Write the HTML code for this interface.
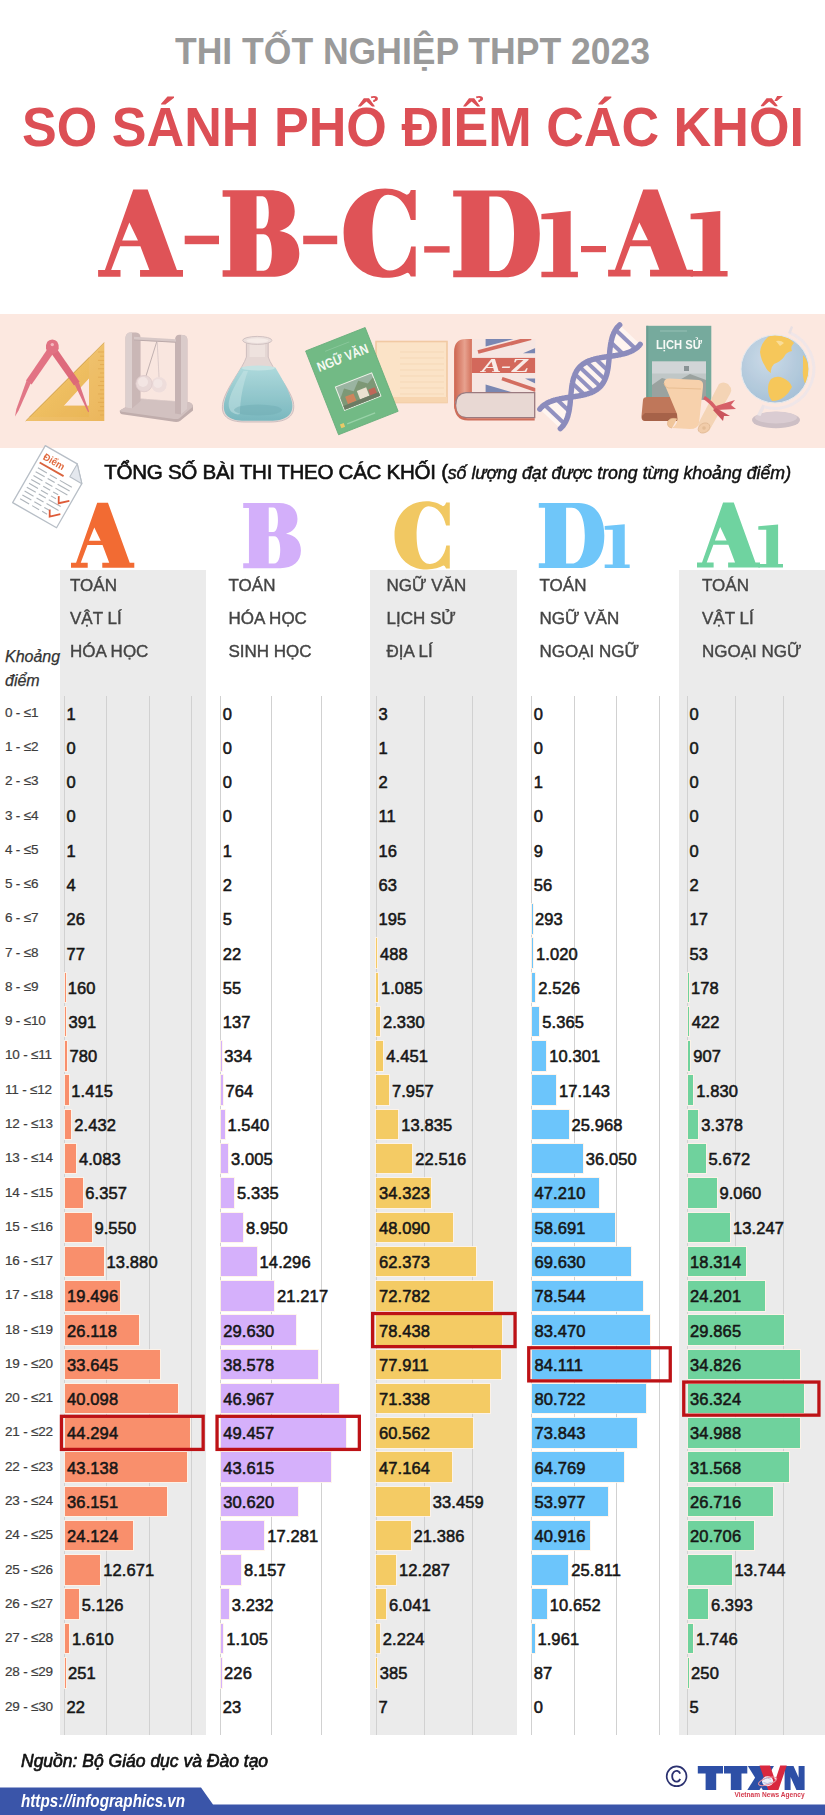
<!DOCTYPE html>
<html lang="vi"><head><meta charset="utf-8"><title>So sánh phổ điểm các khối</title>
<style>
html,body{margin:0;padding:0;background:#fff;}
html{width:825px;height:1815px;overflow:hidden;}
body{width:825px;height:1815px;position:relative;overflow:hidden;font-family:"Liberation Sans",sans-serif;}
.abs{position:absolute;white-space:nowrap;}
.t1{left:175px;top:32.4px;font-weight:700;font-size:36px;line-height:40px;color:#9a9a9a;transform:scaleX(0.9866);transform-origin:0 0;}
.t2{left:21.6px;top:97.6px;font-weight:700;font-size:55px;line-height:58px;color:#dc4f55;transform:scaleX(0.9477);transform-origin:0 0;}
.sub{left:104.2px;top:458px;font-size:20.6px;letter-spacing:-0.3px;line-height:28px;color:#111;-webkit-text-stroke:0.6px #111;}
.sub i{font-size:17.75px;letter-spacing:0;-webkit-text-stroke:0.45px #111;}
.colbg{position:absolute;background:#ebebeb;top:570px;height:1165px;}
.grid{position:absolute;top:696px;height:1039px;width:1.2px;background:#d1d1d1;}
.subj{position:absolute;font-size:17px;line-height:33px;color:#444;-webkit-text-stroke:0.4px #444;white-space:nowrap;}
.rl{position:absolute;left:5px;margin-top:-0.5px;font-size:13.5px;line-height:16px;color:#3d3d3d;-webkit-text-stroke:0.2px #3d3d3d;white-space:nowrap;letter-spacing:-0.2px;}
.bar{position:absolute;height:29.6px;box-shadow:0 0 0 1px rgba(255,243,232,.85);}
.v{position:absolute;font-size:16.5px;line-height:20px;color:#161616;-webkit-text-stroke:0.55px #161616;white-space:nowrap;letter-spacing:0.1px;}
.hl{position:absolute;box-sizing:border-box;border:3px solid #bd1216;height:36.4px;}
.kd{left:5px;top:645px;font-style:italic;font-size:16px;line-height:23.5px;color:#333;-webkit-text-stroke:0.25px #333;}
.src{left:21px;top:1749.3px;font-style:italic;font-size:17.5px;line-height:24px;color:#111;-webkit-text-stroke:0.65px #111;}
.url{left:21px;top:1789.8px;font-style:italic;font-weight:700;font-size:17.5px;line-height:22px;color:#fff;transform:scaleX(0.87);transform-origin:0 0;}
svg{position:absolute;left:0;top:0;}
</style></head><body>
<div class="abs t1" id="t1">THI TỐT NGHIỆP THPT 2023</div>
<div class="abs t2" id="t2">SO SÁNH PHỔ ĐIỂM CÁC KHỐI</div>

<svg width="825" height="300" viewBox="0 0 825 300" id="bigtitle">
<path transform="matrix(0.1698 0 0 0.1693 98.10 189.60)" fill="#df5357" fill-rule="evenodd" d="M207,0 L292,0 L464,475 L500,475 L500,515 L247,515 L247,475 L302,475 L249,335 L130,335 L77,475 L132,475 L132,515 L0,515 L0,475 L40,475 Z M184,195 L235,300 L142,300 Z"/>
<path transform="matrix(0.1697 0 0 0.1698 222.60 190.20)" fill="#df5357" fill-rule="evenodd" d="M0,0 L280,0 C375,0 425,50 425,125 C425,185 390,225 335,240 C410,250 452,300 452,372 C452,460 390,510 290,510 L0,510 L0,472 L45,472 L45,38 L0,38 Z M200,35 L235,35 C262,35 272,85 272,132 C272,180 262,226 235,226 L200,226 Z M200,260 L242,260 C278,260 290,318 290,366 C290,420 278,474 242,474 L200,474 Z"/>
<path transform="matrix(0.1696 0 0 0.1696 343.60 188.40)" fill="#df5357" fill-rule="evenodd" d="M425,10 L425,187 L396,187 C378,105 330,38 262,38 C200,38 170,150 170,262 C170,390 205,484 272,484 C338,484 385,420 398,342 L425,342 L425,520 L396,520 C390,505 385,497 375,497 C345,515 305,527 250,527 C100,527 0,420 0,262 C0,110 100,0 245,0 C305,0 345,20 372,38 C385,38 392,25 396,10 Z"/>
<path transform="matrix(0.2062 0 0 0.2057 453.20 190.40)" fill="#df5357" fill-rule="evenodd" d="M0,0 L255,0 C368,0 420,90 420,210 C420,335 368,422 255,422 L0,422 L0,390 L40,390 L40,30 L0,30 Z M175,30 L212,30 C268,30 295,110 295,210 C295,315 268,392 212,392 L175,392 Z"/>
<path transform="matrix(0.2062 0 0 0.2056 541.40 211.00)" fill="#df5357" fill-rule="evenodd" d="M0,14 L142,0 L142,295 L177,295 L177,322 L0,322 L0,295 L57,295 L57,40 L0,40 Z"/>
<path transform="matrix(0.1698 0 0 0.1689 608.10 189.60)" fill="#df5357" fill-rule="evenodd" d="M207,0 L292,0 L464,475 L500,475 L500,515 L247,515 L247,475 L302,475 L249,335 L130,335 L77,475 L132,475 L132,515 L0,515 L0,475 L40,475 Z M184,195 L235,300 L142,300 Z"/>
<path transform="matrix(0.2090 0 0 0.2037 690.60 211.00)" fill="#df5357" fill-rule="evenodd" d="M0,14 L142,0 L142,295 L177,295 L177,322 L0,322 L0,295 L57,295 L57,40 L0,40 Z"/>
<rect x="184.7" y="235.7" width="34.3" height="8.5" fill="#df5357"/>
<rect x="303.2" y="235.7" width="34.0" height="8.5" fill="#df5357"/>
<rect x="424.2" y="246.2" width="25.4" height="6.4" fill="#df5357"/>
<rect x="581" y="246" width="25.0" height="6.2" fill="#df5357"/>
</svg>
<div class="abs" style="left:0;top:313.5px;width:825px;height:134.5px;background:#fce8e0;"></div>
<svg width="825" height="170" viewBox="0 300 825 170" style="top:300px;opacity:0.9" id="strip">
<defs>
<linearGradient id="gRul" x1="0" y1="0" x2="1" y2="1"><stop offset="0" stop-color="#f2c766"/><stop offset="1" stop-color="#e8ad42"/></linearGradient>
<linearGradient id="gPost" x1="0" y1="0" x2="1" y2="0"><stop offset="0" stop-color="#d9cccc"/><stop offset="0.5" stop-color="#b9a7a8"/><stop offset="1" stop-color="#9f8d8f"/></linearGradient>
<linearGradient id="gBase" x1="0" y1="0" x2="0" y2="1"><stop offset="0" stop-color="#cdbfbf"/><stop offset="1" stop-color="#a79597"/></linearGradient>
<radialGradient id="gBall" cx="0.4" cy="0.35" r="0.7"><stop offset="0" stop-color="#efe6e6"/><stop offset="1" stop-color="#bfb0b2"/></radialGradient>
<linearGradient id="gLiq" x1="0" y1="0" x2="0" y2="1"><stop offset="0" stop-color="#a6d8dc"/><stop offset="1" stop-color="#6bb2bb"/></linearGradient>
<linearGradient id="gGlass" x1="0" y1="0" x2="1" y2="0"><stop offset="0" stop-color="#c9d9d9"/><stop offset="0.5" stop-color="#eef3f2"/><stop offset="1" stop-color="#c2d2d3"/></linearGradient>
<radialGradient id="gGlobe" cx="0.4" cy="0.35" r="0.75"><stop offset="0" stop-color="#c3d8e8"/><stop offset="1" stop-color="#93b7d3"/></radialGradient>
<linearGradient id="gSpine" x1="0" y1="0" x2="1" y2="0"><stop offset="0" stop-color="#c8553f"/><stop offset="0.6" stop-color="#e59a86"/><stop offset="1" stop-color="#cf634d"/></linearGradient>
<clipPath id="cFlag"><rect x="471.7" y="339.1" width="63.6" height="53.3"/></clipPath>
<clipPath id="cGlobe"><circle cx="775" cy="369" r="34"/></clipPath>
</defs>
<g id="ruler" opacity="0.92">
<path fill="url(#gRul)" fill-rule="evenodd" d="M104.3,342.5 L104.3,421 L25.7,421 Z M89,378.3 L89,405.7 L63.7,405.7 Z"/>
<path d="M104.3,342.5 L25.7,421" fill="none" stroke="#cfa044" stroke-width="1"/>
<g stroke="#d99a2e" stroke-width="0.7"><line x1="98" y1="352.0" x2="104" y2="352.0"/><line x1="100" y1="356.2" x2="104" y2="356.2"/><line x1="98" y1="360.4" x2="104" y2="360.4"/><line x1="100" y1="364.6" x2="104" y2="364.6"/><line x1="98" y1="368.8" x2="104" y2="368.8"/><line x1="100" y1="373.0" x2="104" y2="373.0"/><line x1="98" y1="377.2" x2="104" y2="377.2"/><line x1="100" y1="381.4" x2="104" y2="381.4"/><line x1="98" y1="385.6" x2="104" y2="385.6"/><line x1="100" y1="389.8" x2="104" y2="389.8"/><line x1="98" y1="394.0" x2="104" y2="394.0"/><line x1="100" y1="398.2" x2="104" y2="398.2"/><line x1="98" y1="402.4" x2="104" y2="402.4"/><line x1="100" y1="406.6" x2="104" y2="406.6"/><line x1="98" y1="410.8" x2="104" y2="410.8"/><line x1="100" y1="415.0" x2="104" y2="415.0"/></g>
</g>
<g id="compass" opacity="0.95">
<path d="M26.6,380.6 L30.6,383.4 L18.6,410.5 L15,416.5 L16.4,409 Z" fill="#dd6478"/>
<path d="M74.8,384.8 L78.8,382 L89,411.5 L88.2,412.3 L85.8,407.5 Z" fill="#d95c71"/>
<path d="M47.5,349 L53.5,353 L31.6,384.4 L26,380.6 Z" fill="#de5f74"/>
<path d="M51,353 L57,349 L79.6,381.8 L74,385.6 Z" fill="#d8556b"/>
<path d="M46,348.5 Q45.5,339.8 52.3,339.6 Q59,339.8 58.7,348.5 Q57.5,353.6 52.3,354 Q47.2,353.6 46,348.5 Z" fill="#dd5d72"/>
<circle cx="52.3" cy="344.6" r="1.7" fill="#f3b0ba"/>
</g>
<g id="cradle">
<path d="M119.8,410.5 L141,398.5 L188,402 Q193.5,403 193,408 L193,410.5 L180,421 Q178,422.3 174,421.8 L122,414.2 Q119.5,413.5 119.8,410.5 Z" fill="#b9a6a6"/>
<path d="M119.8,410.5 L141,398.5 L188,402 Q193.5,403 192.5,407 L179.5,418.2 Q178,419.4 174,419 L122,411.8 Q119.5,411.3 119.8,410.5 Z" fill="#cdbdbd"/>
<path d="M140.5,340 L140.5,399 L176,401.5 L176,342 Z" fill="#f6e4de" opacity="0.55"/>
<path d="M125.5,338 Q125.5,332.4 131,332.4 L136,332.6 Q140.6,333 140.6,338 L140.6,401 L132,408.5 L125.5,407.5 Z" fill="#c4b1b2"/>
<path d="M125.5,338 Q125.5,332.4 131,332.4 L132,332.5 L132,408.5 L125.5,407.5 Z" fill="#d9cccc"/>
<path d="M175,340 Q175,334.6 180,334.8 L183,335 Q187.4,335.4 187.4,340 L187.4,409 L181,414.5 L175,413.5 Z" fill="#c0adae"/>
<path d="M181,334.9 L183,335 Q187.4,335.4 187.4,340 L187.4,409 L181,414.5 Z" fill="#d6c8c8"/>
<path d="M134,336.8 L176,339.3 L176,342.6 L134,340.3 Z" fill="#d3c4c4"/>
<path d="M134,339.4 L176,341.8 L176,342.8 L134,340.5 Z" fill="#b5a3a4"/>
<g stroke="#a99a9c" stroke-width="0.8"><line x1="156.8" y1="341.5" x2="146" y2="376"/></g>
<g stroke="#cbbcbd" stroke-width="0.7"><line x1="157.2" y1="341.5" x2="159" y2="377"/></g>
<circle cx="159" cy="384.8" r="7.7" fill="#ecdcdb"/>
<circle cx="158" cy="383.5" r="4.5" fill="#f4e9e7" opacity="0.8"/>
<circle cx="144" cy="383.6" r="8.2" fill="#e7d6d6"/>
<circle cx="143" cy="382" r="5" fill="#f3e7e6" opacity="0.85"/>
<circle cx="144" cy="383.6" r="8.2" fill="none" stroke="#d5c3c4" stroke-width="0.7"/>
</g>
<g id="flask">
<path d="M246.4,342 L246.4,357 C243,368 226,388 223,402 C220,416 228,422 245,422 L270,422 C287,422 296,416 293.3,402 C290,388 271.5,368 268.2,357 L268.2,342 Z" fill="#e3d5d3" stroke="#c4b6b8" stroke-width="0.9"/>
<path d="M249.5,343 L249.5,357 L265,357 L265,343 Z" fill="#efe4e1" opacity="0.8"/>
<path d="M241.3,367.5 C235,378 226.5,391 224.3,402 C221.8,415 229,420.8 245,420.8 L270,420.8 C286,420.8 294.3,415 292,402 C289.8,391 281.5,378 275.3,367.5 Q258,364.5 241.3,367.5 Z" fill="url(#gLiq)"/>
<path d="M243.5,371 C238,380 231,391 229,401 C227.5,409 231,413.5 238,414.5 L240,414 C240,400 243,384 248,371 Z" fill="#c3e5e7" opacity="0.5"/>
<ellipse cx="258" cy="410" rx="24" ry="5.5" fill="#5fa3ad" opacity="0.45"/>
<ellipse cx="258.3" cy="368" rx="16.6" ry="2.6" fill="#bfe2e4"/>
<ellipse cx="257.3" cy="340.4" rx="14.6" ry="4" fill="#e9dedc" stroke="#c7b9ba" stroke-width="0.9"/>
<ellipse cx="257.3" cy="340.6" rx="11" ry="2.4" fill="#f4ebe8"/>
</g>
<g id="notebook">
<rect x="376" y="341.5" width="71" height="61" fill="#fbe2c4" stroke="#f0c69c" stroke-width="1.6"/>
<rect x="376" y="397" width="71" height="5.5" fill="#f6d3ab"/>
<g stroke="#f3d3b0" stroke-width="0.7"><line x1="400" y1="352" x2="444" y2="352"/><line x1="400" y1="358" x2="444" y2="358"/><line x1="400" y1="364" x2="444" y2="364"/><line x1="400" y1="370" x2="444" y2="370"/><line x1="400" y1="376" x2="444" y2="376"/><line x1="400" y1="382" x2="444" y2="382"/><line x1="400" y1="388" x2="444" y2="388"/><line x1="400" y1="394" x2="444" y2="394"/></g>
</g>
<g id="nguvan" transform="translate(305.6,351) rotate(-21.5)">
<rect x="0" y="0" width="64" height="90" fill="#62b57b"/>
<rect x="0" y="0" width="64" height="90" fill="none" stroke="#56a76f" stroke-width="0.8"/>
<text x="5" y="24.5" font-family="Liberation Sans" font-weight="700" font-size="13.5" fill="#f4fbf4" textLength="54" lengthAdjust="spacingAndGlyphs">NGỮ VĂN</text>
<g transform="translate(0,-3)"><rect x="14" y="47" width="40" height="26" fill="#eef3ea"/>
<rect x="15" y="48" width="38" height="24" fill="#8fae9a"/>
<path d="M15,60 L22,52 L30,58 L38,50 L46,56 L53,52 L53,72 L15,72 Z" fill="#6f8f6a"/>
<rect x="20" y="60" width="9" height="8" fill="#c97a4e"/><rect x="33" y="59" width="10" height="9" fill="#e8e0cf"/><rect x="44" y="62" width="7" height="7" fill="#b8584a"/>
<rect x="15" y="68" width="38" height="4" fill="#5c6f55"/></g>
<rect x="5" y="81" width="4" height="4" fill="#e8c75a"/>
<rect x="12" y="82.5" width="30" height="1.2" fill="#8fd0a3"/>
<rect x="18" y="7" width="26" height="0.9" fill="#7fc495"/>
</g>
<g id="ukbook">
<rect x="471.7" y="339.1" width="63.6" height="53.3" fill="#f5e6e2"/>
<g clip-path="url(#cFlag)">
<path d="M485.6,339 L513.5,339 L485.6,346.6 Z M523,353.2 L535.3,348 L535.3,353.2 Z M485.6,384.6 L512.9,392.4 L485.6,392.4 Z M525,378.4 L535.3,378.4 L535.3,383.4 Z" fill="#6b7cad"/>
<path d="M478,352 L531,338.2" stroke="#cf5f52" stroke-width="3.8"/>
<path d="M502,378.6 L536,390.2" stroke="#cf5f52" stroke-width="3.6"/>
<rect x="471.7" y="357.9" width="63.6" height="15.1" fill="#cf5a4c"/>
</g>
<text x="481.4" y="372.2" font-family="Liberation Serif" font-style="italic" font-weight="700" font-size="18" fill="#f8ebe8" textLength="48" lengthAdjust="spacingAndGlyphs">A-Z</text>
<path d="M471.9,339.1 L471.9,393 L466,393 Q455,395 455,407 L455,409 Q454.1,409 454.1,405 L454.1,352 Q454.1,339.1 466,339.1 Z" fill="url(#gSpine)"/>
<path d="M466,392.6 L534.7,392.6 L534.7,417.6 L466,417.6 Q455.6,417 455.6,405.5 Q455.6,393.5 466,392.6 Z" fill="#e6d6d2" stroke="#8f6e74" stroke-width="1.3"/>
<path d="M454.1,404 Q454.1,420.5 468,420.5 L534.7,420.5 L534.7,418.2 L468,418.2 Q456.2,418 455.6,404 Z" fill="#c9604c"/>
</g>
<g id="dna"><path d="M539.8,409.2 L540.3,408.6 L540.7,408.1 L541.2,407.5 L541.8,407.0 L542.3,406.5 L542.8,406.0 L543.4,405.6 L544.0,405.1 L544.6,404.7 L545.2,404.3 L545.8,403.9 L546.5,403.5 L547.1,403.1 L547.8,402.7 L548.5,402.4 L549.2,402.1 L549.9,401.8 L550.7,401.5 L551.4,401.2 L552.2,400.9 L553.0,400.6 L553.7,400.4 L554.5,400.1 L555.4,399.9 L556.2,399.7 L557.0,399.5 L557.9,399.3 L558.7,399.1 L559.6,398.9 L560.4,398.7 L561.3,398.6 L562.2,398.4 L563.1,398.2 L564.0,398.1 L564.9,397.9 L565.8,397.8 L566.7,397.7 L567.6,397.5 L568.5,397.4 L569.5,397.3 L570.4,397.1 L571.3,397.0 L572.2,396.9 L573.1,396.8 L574.0,396.6 L575.0,396.5 L575.9,396.3 L576.8,396.2 L577.7,396.1 L578.6,395.9 L579.5,395.8 L580.3,395.6 L581.2,395.4 L582.1,395.2 L582.9,395.1 L583.8,394.9 L584.6,394.7 L585.5,394.5 L586.3,394.2 L587.1,394.0 L587.9,393.8 L588.7,393.5 L589.5,393.2 L590.2,393.0 L591.0,392.7 L591.7,392.4 L592.4,392.0 L593.1,391.7 L593.8,391.4 L594.5,391.0 L595.1,390.6 L595.8,390.2 L596.4,389.8 L597.0,389.4 L597.6,389.0 L598.2,388.5 L598.7,388.0 L599.3,387.5 L599.8,387.0 L600.3,386.5 L600.8,386.0 L601.3,385.4 L601.7,384.9 L602.2,384.3 L602.6,383.7 L603.0,383.1 L603.4,382.4 L603.8,381.8 L604.1,381.1 L604.5,380.5 L604.8,379.8 L605.1,379.1 L605.4,378.3 L605.7,377.6 L605.9,376.9 L606.2,376.1 L606.4,375.3 L606.7,374.5 L606.9,373.7 L607.1,372.9 L607.3,372.1 L607.4,371.3 L607.6,370.4 L607.8,369.6 L607.9,368.7 L608.1,367.9 L608.2,367.0 L608.3,366.1 L608.4,365.2 L608.5,364.3 L608.6,363.4 L608.7,362.5 L608.8,361.6 L608.9,360.7 L609.0,359.8 L609.1,358.8 L609.2,357.9 L609.2,357.0 L609.3,356.1 L609.4,355.2 L609.5,354.2 L609.6,353.3 L609.7,352.4 L609.7,351.5 L609.8,350.6 L609.9,349.7 L610.0,348.7 L610.1,347.8 L610.3,347.0 L610.4,346.1 L610.5,345.2 L610.6,344.3 L610.8,343.5 L610.9,342.6 L611.1,341.8 L611.3,340.9 L611.5,340.1 L611.7,339.3 L611.9,338.5 L612.1,337.7 L612.3,336.9 L612.6,336.2 L612.8,335.4 L613.1,334.7 L613.4,333.9 L613.7,333.2 L614.0,332.5 L614.4,331.9 L614.7,331.2 L615.1,330.5 L615.5,329.9 L615.9,329.3 L616.3,328.7 L616.7,328.1 L617.2,327.5 L617.7,327.0 L618.2,326.4 L618.7,325.9 L619.2,325.4 L619.7,324.9 L640.2,344.3 L639.7,344.9 L639.3,345.4 L638.8,346.0 L638.2,346.5 L637.7,347.0 L637.2,347.5 L636.6,347.9 L636.0,348.4 L635.4,348.8 L634.8,349.2 L634.2,349.6 L633.5,350.0 L632.9,350.4 L632.2,350.8 L631.5,351.1 L630.8,351.4 L630.1,351.7 L629.3,352.0 L628.6,352.3 L627.8,352.6 L627.0,352.9 L626.3,353.1 L625.5,353.4 L624.6,353.6 L623.8,353.8 L623.0,354.0 L622.1,354.2 L621.3,354.4 L620.4,354.6 L619.6,354.8 L618.7,354.9 L617.8,355.1 L616.9,355.3 L616.0,355.4 L615.1,355.6 L614.2,355.7 L613.3,355.8 L612.4,356.0 L611.5,356.1 L610.5,356.2 L609.6,356.4 L608.7,356.5 L607.8,356.6 L606.9,356.7 L606.0,356.9 L605.0,357.0 L604.1,357.2 L603.2,357.3 L602.3,357.4 L601.4,357.6 L600.5,357.7 L599.7,357.9 L598.8,358.1 L597.9,358.3 L597.1,358.4 L596.2,358.6 L595.4,358.8 L594.5,359.0 L593.7,359.3 L592.9,359.5 L592.1,359.7 L591.3,360.0 L590.5,360.3 L589.8,360.5 L589.0,360.8 L588.3,361.1 L587.6,361.5 L586.9,361.8 L586.2,362.1 L585.5,362.5 L584.9,362.9 L584.2,363.3 L583.6,363.7 L583.0,364.1 L582.4,364.5 L581.8,365.0 L581.3,365.5 L580.7,366.0 L580.2,366.5 L579.7,367.0 L579.2,367.5 L578.7,368.1 L578.3,368.6 L577.8,369.2 L577.4,369.8 L577.0,370.4 L576.6,371.1 L576.2,371.7 L575.9,372.4 L575.5,373.0 L575.2,373.7 L574.9,374.4 L574.6,375.2 L574.3,375.9 L574.1,376.6 L573.8,377.4 L573.6,378.2 L573.3,379.0 L573.1,379.8 L572.9,380.6 L572.7,381.4 L572.6,382.2 L572.4,383.1 L572.2,383.9 L572.1,384.8 L571.9,385.6 L571.8,386.5 L571.7,387.4 L571.6,388.3 L571.5,389.2 L571.4,390.1 L571.3,391.0 L571.2,391.9 L571.1,392.8 L571.0,393.7 L570.9,394.7 L570.8,395.6 L570.8,396.5 L570.7,397.4 L570.6,398.3 L570.5,399.3 L570.4,400.2 L570.3,401.1 L570.3,402.0 L570.2,402.9 L570.1,403.8 L570.0,404.8 L569.9,405.7 L569.7,406.5 L569.6,407.4 L569.5,408.3 L569.4,409.2 L569.2,410.0 L569.1,410.9 L568.9,411.7 L568.7,412.6 L568.5,413.4 L568.3,414.2 L568.1,415.0 L567.9,415.8 L567.7,416.6 L567.4,417.3 L567.2,418.1 L566.9,418.8 L566.6,419.6 L566.3,420.3 L566.0,421.0 L565.6,421.6 L565.3,422.3 L564.9,423.0 L564.5,423.6 L564.1,424.2 L563.7,424.8 L563.3,425.4 L562.8,426.0 L562.3,426.5 L561.8,427.1 L561.3,427.6 L560.8,428.1 L560.3,428.6 Z" fill="#fff6f2"/><line x1="544.5" y1="404.7" x2="564.5" y2="423.7" stroke="#8587bd" stroke-width="4"/><line x1="556.9" y1="399.5" x2="569.0" y2="411.0" stroke="#8587bd" stroke-width="4"/><line x1="584.5" y1="394.7" x2="572.4" y2="383.2" stroke="#8587bd" stroke-width="4"/><line x1="593.4" y1="391.6" x2="575.0" y2="374.1" stroke="#8587bd" stroke-width="4"/><line x1="600.3" y1="386.5" x2="579.7" y2="367.0" stroke="#8587bd" stroke-width="4"/><line x1="605.0" y1="379.4" x2="586.6" y2="361.9" stroke="#8587bd" stroke-width="4"/><line x1="607.6" y1="370.3" x2="595.5" y2="358.8" stroke="#8587bd" stroke-width="4"/><line x1="611.0" y1="342.5" x2="623.1" y2="354.0" stroke="#8587bd" stroke-width="4"/><line x1="615.5" y1="329.8" x2="635.5" y2="348.8" stroke="#8587bd" stroke-width="4"/><path d="M539.8,409.2 L540.3,408.6 L540.7,408.1 L541.2,407.5 L541.8,407.0 L542.3,406.5 L542.8,406.0 L543.4,405.6 L544.0,405.1 L544.6,404.7 L545.2,404.3 L545.8,403.9 L546.5,403.5 L547.1,403.1 L547.8,402.7 L548.5,402.4 L549.2,402.1 L549.9,401.8 L550.7,401.5 L551.4,401.2 L552.2,400.9 L553.0,400.6 L553.7,400.4 L554.5,400.1 L555.4,399.9 L556.2,399.7 L557.0,399.5 L557.9,399.3 L558.7,399.1 L559.6,398.9 L560.4,398.7 L561.3,398.6 L562.2,398.4 L563.1,398.2 L564.0,398.1 L564.9,397.9 L565.8,397.8 L566.7,397.7 L567.6,397.5 L568.5,397.4 L569.5,397.3 L570.4,397.1 L571.3,397.0 L572.2,396.9 L573.1,396.8 L574.0,396.6 L575.0,396.5 L575.9,396.3 L576.8,396.2 L577.7,396.1 L578.6,395.9 L579.5,395.8 L580.3,395.6 L581.2,395.4 L582.1,395.2 L582.9,395.1 L583.8,394.9 L584.6,394.7 L585.5,394.5 L586.3,394.2 L587.1,394.0 L587.9,393.8 L588.7,393.5 L589.5,393.2 L590.2,393.0 L591.0,392.7 L591.7,392.4 L592.4,392.0 L593.1,391.7 L593.8,391.4 L594.5,391.0 L595.1,390.6 L595.8,390.2 L596.4,389.8 L597.0,389.4 L597.6,389.0 L598.2,388.5 L598.7,388.0 L599.3,387.5 L599.8,387.0 L600.3,386.5 L600.8,386.0 L601.3,385.4 L601.7,384.9 L602.2,384.3 L602.6,383.7 L603.0,383.1 L603.4,382.4 L603.8,381.8 L604.1,381.1 L604.5,380.5 L604.8,379.8 L605.1,379.1 L605.4,378.3 L605.7,377.6 L605.9,376.9 L606.2,376.1 L606.4,375.3 L606.7,374.5 L606.9,373.7 L607.1,372.9 L607.3,372.1 L607.4,371.3 L607.6,370.4 L607.8,369.6 L607.9,368.7 L608.1,367.9 L608.2,367.0 L608.3,366.1 L608.4,365.2 L608.5,364.3 L608.6,363.4 L608.7,362.5 L608.8,361.6 L608.9,360.7 L609.0,359.8 L609.1,358.8 L609.2,357.9 L609.2,357.0 L609.3,356.1 L609.4,355.2 L609.5,354.2 L609.6,353.3 L609.7,352.4 L609.7,351.5 L609.8,350.6 L609.9,349.7 L610.0,348.7 L610.1,347.8 L610.3,347.0 L610.4,346.1 L610.5,345.2 L610.6,344.3 L610.8,343.5 L610.9,342.6 L611.1,341.8 L611.3,340.9 L611.5,340.1 L611.7,339.3 L611.9,338.5 L612.1,337.7 L612.3,336.9 L612.6,336.2 L612.8,335.4 L613.1,334.7 L613.4,333.9 L613.7,333.2 L614.0,332.5 L614.4,331.9 L614.7,331.2 L615.1,330.5 L615.5,329.9 L615.9,329.3 L616.3,328.7 L616.7,328.1 L617.2,327.5 L617.7,327.0 L618.2,326.4 L618.7,325.9 L619.2,325.4 L619.7,324.9" fill="none" stroke="#7e80b8" stroke-width="5.4" stroke-linecap="round" stroke-linejoin="round"/><path d="M560.3,428.6 L560.8,428.1 L561.3,427.6 L561.8,427.1 L562.3,426.5 L562.8,426.0 L563.3,425.4 L563.7,424.8 L564.1,424.2 L564.5,423.6 L564.9,423.0 L565.3,422.3 L565.6,421.6 L566.0,421.0 L566.3,420.3 L566.6,419.6 L566.9,418.8 L567.2,418.1 L567.4,417.3 L567.7,416.6 L567.9,415.8 L568.1,415.0 L568.3,414.2 L568.5,413.4 L568.7,412.6 L568.9,411.7 L569.1,410.9 L569.2,410.0 L569.4,409.2 L569.5,408.3 L569.6,407.4 L569.7,406.5 L569.9,405.7 L570.0,404.8 L570.1,403.8 L570.2,402.9 L570.3,402.0 L570.3,401.1 L570.4,400.2 L570.5,399.3 L570.6,398.3 L570.7,397.4 L570.8,396.5 L570.8,395.6 L570.9,394.7 L571.0,393.7 L571.1,392.8 L571.2,391.9 L571.3,391.0 L571.4,390.1 L571.5,389.2 L571.6,388.3 L571.7,387.4 L571.8,386.5 L571.9,385.6 L572.1,384.8 L572.2,383.9 L572.4,383.1 L572.6,382.2 L572.7,381.4 L572.9,380.6 L573.1,379.8 L573.3,379.0 L573.6,378.2 L573.8,377.4 L574.1,376.6 L574.3,375.9 L574.6,375.2 L574.9,374.4 L575.2,373.7 L575.5,373.0 L575.9,372.4 L576.2,371.7 L576.6,371.1 L577.0,370.4 L577.4,369.8 L577.8,369.2 L578.3,368.6 L578.7,368.1 L579.2,367.5 L579.7,367.0 L580.2,366.5 L580.7,366.0 L581.3,365.5 L581.8,365.0 L582.4,364.5 L583.0,364.1 L583.6,363.7 L584.2,363.3 L584.9,362.9 L585.5,362.5 L586.2,362.1 L586.9,361.8 L587.6,361.5 L588.3,361.1 L589.0,360.8 L589.8,360.5 L590.5,360.3 L591.3,360.0 L592.1,359.7 L592.9,359.5 L593.7,359.3 L594.5,359.0 L595.4,358.8 L596.2,358.6 L597.1,358.4 L597.9,358.3 L598.8,358.1 L599.7,357.9 L600.5,357.7 L601.4,357.6 L602.3,357.4 L603.2,357.3 L604.1,357.2 L605.0,357.0 L606.0,356.9 L606.9,356.7 L607.8,356.6 L608.7,356.5 L609.6,356.4 L610.5,356.2 L611.5,356.1 L612.4,356.0 L613.3,355.8 L614.2,355.7 L615.1,355.6 L616.0,355.4 L616.9,355.3 L617.8,355.1 L618.7,354.9 L619.6,354.8 L620.4,354.6 L621.3,354.4 L622.1,354.2 L623.0,354.0 L623.8,353.8 L624.6,353.6 L625.5,353.4 L626.3,353.1 L627.0,352.9 L627.8,352.6 L628.6,352.3 L629.3,352.0 L630.1,351.7 L630.8,351.4 L631.5,351.1 L632.2,350.8 L632.9,350.4 L633.5,350.0 L634.2,349.6 L634.8,349.2 L635.4,348.8 L636.0,348.4 L636.6,347.9 L637.2,347.5 L637.7,347.0 L638.2,346.5 L638.8,346.0 L639.3,345.4 L639.7,344.9 L640.2,344.3" fill="none" stroke="#7e80b8" stroke-width="5.4" stroke-linecap="round" stroke-linejoin="round"/></g>
<g id="lichsu">
<rect x="646.3" y="325.8" width="65" height="74.2" fill="#67a396"/><rect x="646.3" y="325.8" width="2" height="74.2" fill="#5a9588"/>
<rect x="652" y="361.5" width="54" height="38" fill="#b9c3c4"/>
<rect x="652" y="361.5" width="54" height="12" fill="#ccd3d6"/>
<path d="M652,385 L662,378 L676,382 L690,374 L706,380 L706,399.5 L652,399.5 Z" fill="#8f9a98"/>
<rect x="684" y="366" width="5" height="5" fill="#7c8a8d"/>
<rect x="660" y="330.5" width="27" height="1" fill="#8bbcb0"/>
<text x="656" y="349.3" font-family="Liberation Sans" font-weight="700" font-size="13.4" fill="#f5fbf8" textLength="46" lengthAdjust="spacingAndGlyphs">LỊCH SỬ</text>
<path d="M643,400 Q643,397 648,397 L682,397 L682,421 L645,421 Q641,421 641.5,416 Z" fill="#b86a4b"/>
<path d="M645,413 L682,413 L682,421 L645,421 Q641.5,420 642,416 Z" fill="#9c5338"/>
<path d="M664,383 Q664,378 670,378.5 L699,380 Q704,381 703,387 L699,423 Q698,429 690,429 L672,428 Q679,424 677,414 Z" fill="#f6cfa6"/>
<path d="M664,383 Q665,389 672,388 L701,389" fill="none" stroke="#e7b98a" stroke-width="1"/>
<path d="M672,428 Q666,427 668,421 Q671,417 677,419" fill="#efc294" stroke="#e2b081" stroke-width="0.8"/>
</g>
<g id="diploma">
<path d="M698,424 L719,384 Q723,381 728,384 L731,388 Q732,391 730,394 L709,431 Q704,434 700,431 Z" fill="#f3d2b0"/>
<ellipse cx="704" cy="428" rx="6.2" ry="4.6" transform="rotate(-30 704 428)" fill="#f0c9a3" stroke="#ddb48c" stroke-width="0.8"/>
<circle cx="704" cy="428" r="1.8" fill="#e0b78e"/>
<path d="M705,396 Q712,400 719,410 L716,412 Q710,403 703,399 Z" fill="#d2505a"/>
<path d="M716,406 L735,400 L731,405 L736,409 L717,410 Z" fill="#d2505a"/>
<path d="M716,408 L730,416 L724,416 L723,421 L713,410 Z" fill="#c5444f"/>
</g>
<g id="globe" opacity="0.95">
<ellipse cx="776" cy="420" rx="24" ry="8.2" fill="#c5b8c0"/>
<ellipse cx="776" cy="417.5" rx="21" ry="6" fill="#d4c8cf"/>
<path d="M757,415 L762.4,404.5 L765.4,406 L760.5,416 Z" fill="#e9e2e6"/>
<path d="M789.6,332.7 A39.3,39.3 0 0 1 764.1,406.9" fill="none" stroke="#eee6e9" stroke-width="3"/>
<path d="M788,333 L791,326 L793.2,327 L790.6,334 Z" fill="#e6dfe3"/>
<circle cx="775" cy="369" r="34" fill="url(#gGlobe)"/>
<g clip-path="url(#cGlobe)" fill="#f5c143">
<path d="M768,337 Q776,333 783,336 Q790,338 794,343 Q790,347 792,351 Q786,352 784,357 Q780,362 774,364 Q770,368 771,373 Q767,371 765,366 Q761,360 760,352 Q761,343 768,337 Z"/>
<path d="M771,379 Q777,375 783,378 Q790,381 792,387 Q789,393 784,397 Q779,401 772,401 Q768,396 768,389 Q768,383 771,379 Z"/>
<path d="M803,355 Q808,360 809,369 Q809,378 805,384 Q802,376 803,368 Z"/>
<path d="M776,341 Q781,340 784,343 L780,346 Z" fill="#f9dc8c"/>
</g>
<circle cx="775" cy="369" r="34" fill="none" stroke="#dfe8ef" stroke-width="1"/>
</g>
</svg>
<div class="abs sub" id="sub"><span id="sub1">TỔNG SỐ BÀI THI THEO CÁC KHỐI</span> <span id="sub2">(<i>số lượng đạt được trong từng khoảng điểm)</i></span></div>
<svg width="120" height="110" viewBox="0 440 120 110" style="top:440px" id="paper">
<g transform="translate(45.3,445.6) rotate(29.8) scale(1.15,1.24)">
<path d="M0,0 L32,0 L44,12 L44,53 L0,53 Z" fill="#ffffff" stroke="#b7bec6" stroke-width="1.1" stroke-linejoin="round"/>
<path d="M32,0 L32,12 L44,12 Z" fill="#e4e8ee" stroke="#b7bec6" stroke-width="0.9" stroke-linejoin="round"/>
<text x="3.5" y="10.5" font-family="Liberation Sans" font-weight="700" font-size="8.2" fill="#e06a3f">Điểm</text>
<rect x="3" y="13.3" width="24" height="1.5" fill="#d9633e"/>
<g stroke="#aeb4ba" stroke-width="0.9">
<line x1="4" y1="18.5" x2="13" y2="18.5"/><line x1="16" y1="18.5" x2="23" y2="18.5"/><line x1="26" y1="18.5" x2="38" y2="18.5"/><line x1="4" y1="22.1" x2="13" y2="22.1"/><line x1="16" y1="22.1" x2="23" y2="22.1"/><line x1="26" y1="22.1" x2="38" y2="22.1"/><line x1="4" y1="25.7" x2="13" y2="25.7"/><line x1="16" y1="25.7" x2="23" y2="25.7"/><line x1="26" y1="25.7" x2="38" y2="25.7"/><line x1="4" y1="29.3" x2="13" y2="29.3"/><line x1="16" y1="29.3" x2="23" y2="29.3"/><line x1="26" y1="29.3" x2="31" y2="29.3"/><line x1="4" y1="32.9" x2="13" y2="32.9"/><line x1="16" y1="32.9" x2="23" y2="32.9"/><line x1="26" y1="32.9" x2="31" y2="32.9"/><line x1="4" y1="36.5" x2="13" y2="36.5"/><line x1="16" y1="36.5" x2="23" y2="36.5"/><line x1="26" y1="36.5" x2="38" y2="36.5"/><line x1="4" y1="40.1" x2="13" y2="40.1"/><line x1="16" y1="40.1" x2="23" y2="40.1"/><line x1="26" y1="40.1" x2="38" y2="40.1"/><line x1="4" y1="43.7" x2="13" y2="43.7"/><line x1="16" y1="43.7" x2="23" y2="43.7"/><line x1="26" y1="43.7" x2="31" y2="43.7"/><line x1="4" y1="47.3" x2="13" y2="47.3"/><line x1="16" y1="47.3" x2="23" y2="47.3"/><line x1="26" y1="47.3" x2="31" y2="47.3"/>
</g>
<path d="M32,30 L35,35 L42,29" fill="none" stroke="#de5b38" stroke-width="1.5"/>
<path d="M31,43 L34,48 L41,42" fill="none" stroke="#de5b38" stroke-width="1.5"/>
</g>
</svg>
<div class="colbg" style="left:59.6px;width:146.6px"></div>
<div class="colbg" style="left:370.4px;width:146.3px"></div>
<div class="colbg" style="left:678.8px;width:146.2px"></div>
<svg width="825" height="600" viewBox="0 0 825 600" id="colhdr">
<path transform="matrix(0.1266 0 0 0.1262 71.00 502.80)" fill="#f26b33" fill-rule="evenodd" d="M207,0 L292,0 L464,475 L500,475 L500,515 L247,515 L247,475 L302,475 L249,335 L130,335 L77,475 L132,475 L132,515 L0,515 L0,475 L40,475 Z M184,195 L235,300 L142,300 Z"/>
<path transform="matrix(0.1277 0 0 0.1275 243.20 503.10)" fill="#d3affa" fill-rule="evenodd" d="M0,0 L280,0 C375,0 425,50 425,125 C425,185 390,225 335,240 C410,250 452,300 452,372 C452,460 390,510 290,510 L0,510 L0,472 L45,472 L45,38 L0,38 Z M200,35 L235,35 C262,35 272,85 272,132 C272,180 262,226 235,226 L200,226 Z M200,260 L242,260 C278,260 290,318 290,366 C290,420 278,474 242,474 L200,474 Z"/>
<path transform="matrix(0.1301 0 0 0.1294 394.50 501.30)" fill="#f1c862" fill-rule="evenodd" d="M425,10 L425,187 L396,187 C378,105 330,38 262,38 C200,38 170,150 170,262 C170,390 205,484 272,484 C338,484 385,420 398,342 L425,342 L425,520 L396,520 C390,505 385,497 375,497 C345,515 305,527 250,527 C100,527 0,420 0,262 C0,110 100,0 245,0 C305,0 345,20 372,38 C385,38 392,25 396,10 Z"/>
<path transform="matrix(0.1560 0 0 0.1540 538.80 503.10)" fill="#6fc6f9" fill-rule="evenodd" d="M0,0 L255,0 C368,0 420,90 420,210 C420,335 368,422 255,422 L0,422 L0,390 L40,390 L40,30 L0,30 Z M175,30 L212,30 C268,30 295,110 295,210 C295,315 268,392 212,392 L175,392 Z"/>
<path transform="matrix(0.1412 0 0 0.1363 604.70 524.20)" fill="#6fc6f9" fill-rule="evenodd" d="M0,14 L142,0 L142,295 L177,295 L177,322 L0,322 L0,295 L57,295 L57,40 L0,40 Z"/>
<path transform="matrix(0.1260 0 0 0.1266 697.00 502.40)" fill="#6fd3a0" fill-rule="evenodd" d="M207,0 L292,0 L464,475 L500,475 L500,515 L247,515 L247,475 L302,475 L249,335 L130,335 L77,475 L132,475 L132,515 L0,515 L0,475 L40,475 Z M184,195 L235,300 L142,300 Z"/>
<path transform="matrix(0.1395 0 0 0.1342 758.30 524.40)" fill="#6fd3a0" fill-rule="evenodd" d="M0,14 L142,0 L142,295 L177,295 L177,322 L0,322 L0,295 L57,295 L57,40 L0,40 Z"/>
</svg>
<div class="subj" style="left:70px;top:568.5px">TOÁN<br>VẬT LÍ<br>HÓA HỌC</div>
<div class="subj" style="left:228.5px;top:568.5px">TOÁN<br>HÓA HỌC<br>SINH HỌC</div>
<div class="subj" style="left:386.5px;top:568.5px">NGỮ VĂN<br>LỊCH SỬ<br>ĐỊA LÍ</div>
<div class="subj" style="left:539.5px;top:568.5px">TOÁN<br>NGỮ VĂN<br>NGOẠI NGỮ</div>
<div class="subj" style="left:702px;top:568.5px">TOÁN<br>VẬT LÍ<br>NGOẠI NGỮ</div>
<div class="abs kd">Khoảng<br>điểm</div>
<div class="grid" style="left:63.8px"></div>
<div class="grid" style="left:106.3px"></div>
<div class="grid" style="left:148.8px"></div>
<div class="grid" style="left:191.3px"></div>
<div class="grid" style="left:220.0px"></div>
<div class="grid" style="left:270.6px"></div>
<div class="grid" style="left:321.1px"></div>
<div class="grid" style="left:375.7px"></div>
<div class="grid" style="left:423.7px"></div>
<div class="grid" style="left:471.7px"></div>
<div class="grid" style="left:531.1px"></div>
<div class="grid" style="left:573.7px"></div>
<div class="grid" style="left:616.3px"></div>
<div class="grid" style="left:658.9px"></div>
<div class="grid" style="left:686.8px"></div>
<div class="grid" style="left:735.0px"></div>
<div class="grid" style="left:783.2px"></div>
<div class="rl" style="top:705.2px">0 - ≤1</div>
<div class="rl" style="top:739.5px">1 - ≤2</div>
<div class="rl" style="top:773.7px">2 - ≤3</div>
<div class="rl" style="top:808.0px">3 - ≤4</div>
<div class="rl" style="top:842.3px">4 - ≤5</div>
<div class="rl" style="top:876.6px">5 - ≤6</div>
<div class="rl" style="top:910.8px">6 - ≤7</div>
<div class="rl" style="top:945.1px">7 - ≤8</div>
<div class="rl" style="top:979.4px">8 - ≤9</div>
<div class="rl" style="top:1013.6px">9 - ≤10</div>
<div class="rl" style="top:1047.9px">10 - ≤11</div>
<div class="rl" style="top:1082.2px">11 - ≤12</div>
<div class="rl" style="top:1116.4px">12 - ≤13</div>
<div class="rl" style="top:1150.7px">13 - ≤14</div>
<div class="rl" style="top:1185.0px">14 - ≤15</div>
<div class="rl" style="top:1219.2px">15 - ≤16</div>
<div class="rl" style="top:1253.5px">16 - ≤17</div>
<div class="rl" style="top:1287.8px">17 - ≤18</div>
<div class="rl" style="top:1322.1px">18 - ≤19</div>
<div class="rl" style="top:1356.3px">19 - ≤20</div>
<div class="rl" style="top:1390.6px">20 - ≤21</div>
<div class="rl" style="top:1424.9px">21 - ≤22</div>
<div class="rl" style="top:1459.1px">22 - ≤23</div>
<div class="rl" style="top:1493.4px">23 - ≤24</div>
<div class="rl" style="top:1527.7px">24 - ≤25</div>
<div class="rl" style="top:1562.0px">25 - ≤26</div>
<div class="rl" style="top:1596.2px">26 - ≤27</div>
<div class="rl" style="top:1630.5px">27 - ≤28</div>
<div class="rl" style="top:1664.8px">28 - ≤29</div>
<div class="rl" style="top:1699.0px">29 - ≤30</div>
<div class="v" style="left:66.5px;top:703.6px">1</div>
<div class="v" style="left:66.5px;top:737.9px">0</div>
<div class="v" style="left:66.5px;top:772.1px">0</div>
<div class="v" style="left:66.5px;top:806.4px">0</div>
<div class="v" style="left:66.5px;top:840.7px">1</div>
<div class="v" style="left:66.5px;top:875.0px">4</div>
<div class="v" style="left:66.5px;top:909.2px">26</div>
<div class="v" style="left:66.5px;top:943.5px">77</div>
<div class="bar" style="left:64.5px;top:972.6px;width:0.5px;background:#f98f6c"></div>
<div class="v" style="left:67.8px;top:977.8px">160</div>
<div class="bar" style="left:64.5px;top:1006.8px;width:1.1px;background:#f98f6c"></div>
<div class="v" style="left:68.4px;top:1012.0px">391</div>
<div class="bar" style="left:64.5px;top:1041.1px;width:2.2px;background:#f98f6c"></div>
<div class="v" style="left:69.5px;top:1046.3px">780</div>
<div class="bar" style="left:64.5px;top:1075.4px;width:4.0px;background:#f98f6c"></div>
<div class="v" style="left:71.3px;top:1080.6px">1.415</div>
<div class="bar" style="left:64.5px;top:1109.6px;width:6.9px;background:#f98f6c"></div>
<div class="v" style="left:74.2px;top:1114.8px">2.432</div>
<div class="bar" style="left:64.5px;top:1143.9px;width:11.6px;background:#f98f6c"></div>
<div class="v" style="left:78.9px;top:1149.1px">4.083</div>
<div class="bar" style="left:64.5px;top:1178.2px;width:18.0px;background:#f98f6c"></div>
<div class="v" style="left:85.3px;top:1183.4px">6.357</div>
<div class="bar" style="left:64.5px;top:1212.5px;width:27.1px;background:#f98f6c"></div>
<div class="v" style="left:94.4px;top:1217.7px">9.550</div>
<div class="bar" style="left:64.5px;top:1246.7px;width:39.3px;background:#f98f6c"></div>
<div class="v" style="left:106.6px;top:1251.9px">13.880</div>
<div class="bar" style="left:64.5px;top:1281.0px;width:55.2px;background:#f98f6c"></div>
<div class="v" style="left:67.1px;top:1286.2px">19.496</div>
<div class="bar" style="left:64.5px;top:1315.3px;width:74.0px;background:#f98f6c"></div>
<div class="v" style="left:67.1px;top:1320.5px">26.118</div>
<div class="bar" style="left:64.5px;top:1349.5px;width:95.3px;background:#f98f6c"></div>
<div class="v" style="left:67.1px;top:1354.7px">33.645</div>
<div class="bar" style="left:64.5px;top:1383.8px;width:113.6px;background:#f98f6c"></div>
<div class="v" style="left:67.1px;top:1389.0px">40.098</div>
<div class="bar" style="left:64.5px;top:1418.1px;width:125.5px;background:#f98f6c"></div>
<div class="v" style="left:67.1px;top:1423.3px">44.294</div>
<div class="bar" style="left:64.5px;top:1452.3px;width:122.2px;background:#f98f6c"></div>
<div class="v" style="left:67.1px;top:1457.5px">43.138</div>
<div class="bar" style="left:64.5px;top:1486.6px;width:102.4px;background:#f98f6c"></div>
<div class="v" style="left:67.1px;top:1491.8px">36.151</div>
<div class="bar" style="left:64.5px;top:1520.9px;width:68.3px;background:#f98f6c"></div>
<div class="v" style="left:67.1px;top:1526.1px">24.124</div>
<div class="bar" style="left:64.5px;top:1555.2px;width:35.9px;background:#f98f6c"></div>
<div class="v" style="left:103.2px;top:1560.4px">12.671</div>
<div class="bar" style="left:64.5px;top:1589.4px;width:14.5px;background:#f98f6c"></div>
<div class="v" style="left:81.8px;top:1594.6px">5.126</div>
<div class="bar" style="left:64.5px;top:1623.7px;width:4.6px;background:#f98f6c"></div>
<div class="v" style="left:71.9px;top:1628.9px">1.610</div>
<div class="bar" style="left:64.5px;top:1658.0px;width:0.7px;background:#f98f6c"></div>
<div class="v" style="left:68.0px;top:1663.2px">251</div>
<div class="v" style="left:66.5px;top:1697.4px">22</div>
<div class="v" style="left:222.7px;top:703.6px">0</div>
<div class="v" style="left:222.7px;top:737.9px">0</div>
<div class="v" style="left:222.7px;top:772.1px">0</div>
<div class="v" style="left:222.7px;top:806.4px">0</div>
<div class="v" style="left:222.7px;top:840.7px">1</div>
<div class="v" style="left:222.7px;top:875.0px">2</div>
<div class="v" style="left:222.7px;top:909.2px">5</div>
<div class="v" style="left:222.7px;top:943.5px">22</div>
<div class="v" style="left:222.7px;top:977.8px">55</div>
<div class="v" style="left:222.7px;top:1012.0px">137</div>
<div class="bar" style="left:220.7px;top:1041.1px;width:0.8px;background:#d5b0fb"></div>
<div class="v" style="left:224.3px;top:1046.3px">334</div>
<div class="bar" style="left:220.7px;top:1075.4px;width:1.9px;background:#d5b0fb"></div>
<div class="v" style="left:225.4px;top:1080.6px">764</div>
<div class="bar" style="left:220.7px;top:1109.6px;width:3.9px;background:#d5b0fb"></div>
<div class="v" style="left:227.4px;top:1114.8px">1.540</div>
<div class="bar" style="left:220.7px;top:1143.9px;width:7.6px;background:#d5b0fb"></div>
<div class="v" style="left:231.1px;top:1149.1px">3.005</div>
<div class="bar" style="left:220.7px;top:1178.2px;width:13.5px;background:#d5b0fb"></div>
<div class="v" style="left:237.0px;top:1183.4px">5.335</div>
<div class="bar" style="left:220.7px;top:1212.5px;width:22.6px;background:#d5b0fb"></div>
<div class="v" style="left:246.1px;top:1217.7px">8.950</div>
<div class="bar" style="left:220.7px;top:1246.7px;width:36.1px;background:#d5b0fb"></div>
<div class="v" style="left:259.6px;top:1251.9px">14.296</div>
<div class="bar" style="left:220.7px;top:1281.0px;width:53.6px;background:#d5b0fb"></div>
<div class="v" style="left:277.1px;top:1286.2px">21.217</div>
<div class="bar" style="left:220.7px;top:1315.3px;width:74.9px;background:#d5b0fb"></div>
<div class="v" style="left:223.3px;top:1320.5px">29.630</div>
<div class="bar" style="left:220.7px;top:1349.5px;width:97.5px;background:#d5b0fb"></div>
<div class="v" style="left:223.3px;top:1354.7px">38.578</div>
<div class="bar" style="left:220.7px;top:1383.8px;width:118.7px;background:#d5b0fb"></div>
<div class="v" style="left:223.3px;top:1389.0px">46.967</div>
<div class="bar" style="left:220.7px;top:1418.1px;width:125.0px;background:#d5b0fb"></div>
<div class="v" style="left:223.3px;top:1423.3px">49.457</div>
<div class="bar" style="left:220.7px;top:1452.3px;width:110.3px;background:#d5b0fb"></div>
<div class="v" style="left:223.3px;top:1457.5px">43.615</div>
<div class="bar" style="left:220.7px;top:1486.6px;width:77.4px;background:#d5b0fb"></div>
<div class="v" style="left:223.3px;top:1491.8px">30.620</div>
<div class="bar" style="left:220.7px;top:1520.9px;width:43.7px;background:#d5b0fb"></div>
<div class="v" style="left:267.2px;top:1526.1px">17.281</div>
<div class="bar" style="left:220.7px;top:1555.2px;width:20.6px;background:#d5b0fb"></div>
<div class="v" style="left:244.1px;top:1560.4px">8.157</div>
<div class="bar" style="left:220.7px;top:1589.4px;width:8.2px;background:#d5b0fb"></div>
<div class="v" style="left:231.7px;top:1594.6px">3.232</div>
<div class="bar" style="left:220.7px;top:1623.7px;width:2.8px;background:#d5b0fb"></div>
<div class="v" style="left:226.3px;top:1628.9px">1.105</div>
<div class="bar" style="left:220.7px;top:1658.0px;width:0.6px;background:#d5b0fb"></div>
<div class="v" style="left:224.1px;top:1663.2px">226</div>
<div class="v" style="left:222.7px;top:1697.4px">23</div>
<div class="v" style="left:378.4px;top:703.6px">3</div>
<div class="v" style="left:378.4px;top:737.9px">1</div>
<div class="v" style="left:378.4px;top:772.1px">2</div>
<div class="v" style="left:378.4px;top:806.4px">11</div>
<div class="v" style="left:378.4px;top:840.7px">16</div>
<div class="v" style="left:378.4px;top:875.0px">63</div>
<div class="v" style="left:378.4px;top:909.2px">195</div>
<div class="bar" style="left:376.4px;top:938.3px;width:0.8px;background:#f4cb64"></div>
<div class="v" style="left:380.0px;top:943.5px">488</div>
<div class="bar" style="left:376.4px;top:972.6px;width:1.7px;background:#f4cb64"></div>
<div class="v" style="left:380.9px;top:977.8px">1.085</div>
<div class="bar" style="left:376.4px;top:1006.8px;width:3.7px;background:#f4cb64"></div>
<div class="v" style="left:382.9px;top:1012.0px">2.330</div>
<div class="bar" style="left:376.4px;top:1041.1px;width:7.1px;background:#f4cb64"></div>
<div class="v" style="left:386.3px;top:1046.3px">4.451</div>
<div class="bar" style="left:376.4px;top:1075.4px;width:12.7px;background:#f4cb64"></div>
<div class="v" style="left:391.9px;top:1080.6px">7.957</div>
<div class="bar" style="left:376.4px;top:1109.6px;width:22.1px;background:#f4cb64"></div>
<div class="v" style="left:401.3px;top:1114.8px">13.835</div>
<div class="bar" style="left:376.4px;top:1143.9px;width:36.0px;background:#f4cb64"></div>
<div class="v" style="left:415.2px;top:1149.1px">22.516</div>
<div class="bar" style="left:376.4px;top:1178.2px;width:54.9px;background:#f4cb64"></div>
<div class="v" style="left:379.0px;top:1183.4px">34.323</div>
<div class="bar" style="left:376.4px;top:1212.5px;width:76.9px;background:#f4cb64"></div>
<div class="v" style="left:379.0px;top:1217.7px">48.090</div>
<div class="bar" style="left:376.4px;top:1246.7px;width:99.8px;background:#f4cb64"></div>
<div class="v" style="left:379.0px;top:1251.9px">62.373</div>
<div class="bar" style="left:376.4px;top:1281.0px;width:116.5px;background:#f4cb64"></div>
<div class="v" style="left:379.0px;top:1286.2px">72.782</div>
<div class="bar" style="left:376.4px;top:1315.3px;width:125.5px;background:#f4cb64"></div>
<div class="v" style="left:379.0px;top:1320.5px">78.438</div>
<div class="bar" style="left:376.4px;top:1349.5px;width:124.7px;background:#f4cb64"></div>
<div class="v" style="left:379.0px;top:1354.7px">77.911</div>
<div class="bar" style="left:376.4px;top:1383.8px;width:114.1px;background:#f4cb64"></div>
<div class="v" style="left:379.0px;top:1389.0px">71.338</div>
<div class="bar" style="left:376.4px;top:1418.1px;width:96.9px;background:#f4cb64"></div>
<div class="v" style="left:379.0px;top:1423.3px">60.562</div>
<div class="bar" style="left:376.4px;top:1452.3px;width:75.5px;background:#f4cb64"></div>
<div class="v" style="left:379.0px;top:1457.5px">47.164</div>
<div class="bar" style="left:376.4px;top:1486.6px;width:53.5px;background:#f4cb64"></div>
<div class="v" style="left:432.7px;top:1491.8px">33.459</div>
<div class="bar" style="left:376.4px;top:1520.9px;width:34.2px;background:#f4cb64"></div>
<div class="v" style="left:413.4px;top:1526.1px">21.386</div>
<div class="bar" style="left:376.4px;top:1555.2px;width:19.7px;background:#f4cb64"></div>
<div class="v" style="left:398.9px;top:1560.4px">12.287</div>
<div class="bar" style="left:376.4px;top:1589.4px;width:9.7px;background:#f4cb64"></div>
<div class="v" style="left:388.9px;top:1594.6px">6.041</div>
<div class="bar" style="left:376.4px;top:1623.7px;width:3.6px;background:#f4cb64"></div>
<div class="v" style="left:382.8px;top:1628.9px">2.224</div>
<div class="bar" style="left:376.4px;top:1658.0px;width:0.6px;background:#f4cb64"></div>
<div class="v" style="left:379.8px;top:1663.2px">385</div>
<div class="v" style="left:378.4px;top:1697.4px">7</div>
<div class="v" style="left:533.8px;top:703.6px">0</div>
<div class="v" style="left:533.8px;top:737.9px">0</div>
<div class="v" style="left:533.8px;top:772.1px">1</div>
<div class="v" style="left:533.8px;top:806.4px">0</div>
<div class="v" style="left:533.8px;top:840.7px">9</div>
<div class="v" style="left:533.8px;top:875.0px">56</div>
<div class="bar" style="left:531.8px;top:904.0px;width:0.4px;background:#6cc5fb"></div>
<div class="v" style="left:535.0px;top:909.2px">293</div>
<div class="bar" style="left:531.8px;top:938.3px;width:1.4px;background:#6cc5fb"></div>
<div class="v" style="left:536.0px;top:943.5px">1.020</div>
<div class="bar" style="left:531.8px;top:972.6px;width:3.6px;background:#6cc5fb"></div>
<div class="v" style="left:538.2px;top:977.8px">2.526</div>
<div class="bar" style="left:531.8px;top:1006.8px;width:7.6px;background:#6cc5fb"></div>
<div class="v" style="left:542.2px;top:1012.0px">5.365</div>
<div class="bar" style="left:531.8px;top:1041.1px;width:14.6px;background:#6cc5fb"></div>
<div class="v" style="left:549.2px;top:1046.3px">10.301</div>
<div class="bar" style="left:531.8px;top:1075.4px;width:24.3px;background:#6cc5fb"></div>
<div class="v" style="left:558.9px;top:1080.6px">17.143</div>
<div class="bar" style="left:531.8px;top:1109.6px;width:36.9px;background:#6cc5fb"></div>
<div class="v" style="left:571.5px;top:1114.8px">25.968</div>
<div class="bar" style="left:531.8px;top:1143.9px;width:51.2px;background:#6cc5fb"></div>
<div class="v" style="left:585.8px;top:1149.1px">36.050</div>
<div class="bar" style="left:531.8px;top:1178.2px;width:67.0px;background:#6cc5fb"></div>
<div class="v" style="left:534.4px;top:1183.4px">47.210</div>
<div class="bar" style="left:531.8px;top:1212.5px;width:83.3px;background:#6cc5fb"></div>
<div class="v" style="left:534.4px;top:1217.7px">58.691</div>
<div class="bar" style="left:531.8px;top:1246.7px;width:98.9px;background:#6cc5fb"></div>
<div class="v" style="left:534.4px;top:1251.9px">69.630</div>
<div class="bar" style="left:531.8px;top:1281.0px;width:111.5px;background:#6cc5fb"></div>
<div class="v" style="left:534.4px;top:1286.2px">78.544</div>
<div class="bar" style="left:531.8px;top:1315.3px;width:118.5px;background:#6cc5fb"></div>
<div class="v" style="left:534.4px;top:1320.5px">83.470</div>
<div class="bar" style="left:531.8px;top:1349.5px;width:119.4px;background:#6cc5fb"></div>
<div class="v" style="left:534.4px;top:1354.7px">84.111</div>
<div class="bar" style="left:531.8px;top:1383.8px;width:114.6px;background:#6cc5fb"></div>
<div class="v" style="left:534.4px;top:1389.0px">80.722</div>
<div class="bar" style="left:531.8px;top:1418.1px;width:104.9px;background:#6cc5fb"></div>
<div class="v" style="left:534.4px;top:1423.3px">73.843</div>
<div class="bar" style="left:531.8px;top:1452.3px;width:92.0px;background:#6cc5fb"></div>
<div class="v" style="left:534.4px;top:1457.5px">64.769</div>
<div class="bar" style="left:531.8px;top:1486.6px;width:76.6px;background:#6cc5fb"></div>
<div class="v" style="left:534.4px;top:1491.8px">53.977</div>
<div class="bar" style="left:531.8px;top:1520.9px;width:58.1px;background:#6cc5fb"></div>
<div class="v" style="left:534.4px;top:1526.1px">40.916</div>
<div class="bar" style="left:531.8px;top:1555.2px;width:36.7px;background:#6cc5fb"></div>
<div class="v" style="left:571.3px;top:1560.4px">25.811</div>
<div class="bar" style="left:531.8px;top:1589.4px;width:15.1px;background:#6cc5fb"></div>
<div class="v" style="left:549.7px;top:1594.6px">10.652</div>
<div class="bar" style="left:531.8px;top:1623.7px;width:2.8px;background:#6cc5fb"></div>
<div class="v" style="left:537.4px;top:1628.9px">1.961</div>
<div class="v" style="left:533.8px;top:1663.2px">87</div>
<div class="v" style="left:533.8px;top:1697.4px">0</div>
<div class="v" style="left:689.5px;top:703.6px">0</div>
<div class="v" style="left:689.5px;top:737.9px">0</div>
<div class="v" style="left:689.5px;top:772.1px">0</div>
<div class="v" style="left:689.5px;top:806.4px">0</div>
<div class="v" style="left:689.5px;top:840.7px">0</div>
<div class="v" style="left:689.5px;top:875.0px">2</div>
<div class="v" style="left:689.5px;top:909.2px">17</div>
<div class="v" style="left:689.5px;top:943.5px">53</div>
<div class="bar" style="left:687.5px;top:972.6px;width:0.6px;background:#6fd29d"></div>
<div class="v" style="left:690.9px;top:977.8px">178</div>
<div class="bar" style="left:687.5px;top:1006.8px;width:1.4px;background:#6fd29d"></div>
<div class="v" style="left:691.7px;top:1012.0px">422</div>
<div class="bar" style="left:687.5px;top:1041.1px;width:2.9px;background:#6fd29d"></div>
<div class="v" style="left:693.2px;top:1046.3px">907</div>
<div class="bar" style="left:687.5px;top:1075.4px;width:5.9px;background:#6fd29d"></div>
<div class="v" style="left:696.2px;top:1080.6px">1.830</div>
<div class="bar" style="left:687.5px;top:1109.6px;width:10.9px;background:#6fd29d"></div>
<div class="v" style="left:701.2px;top:1114.8px">3.378</div>
<div class="bar" style="left:687.5px;top:1143.9px;width:18.2px;background:#6fd29d"></div>
<div class="v" style="left:708.5px;top:1149.1px">5.672</div>
<div class="bar" style="left:687.5px;top:1178.2px;width:29.1px;background:#6fd29d"></div>
<div class="v" style="left:719.4px;top:1183.4px">9.060</div>
<div class="bar" style="left:687.5px;top:1212.5px;width:42.6px;background:#6fd29d"></div>
<div class="v" style="left:732.9px;top:1217.7px">13.247</div>
<div class="bar" style="left:687.5px;top:1246.7px;width:58.9px;background:#6fd29d"></div>
<div class="v" style="left:690.1px;top:1251.9px">18.314</div>
<div class="bar" style="left:687.5px;top:1281.0px;width:77.8px;background:#6fd29d"></div>
<div class="v" style="left:690.1px;top:1286.2px">24.201</div>
<div class="bar" style="left:687.5px;top:1315.3px;width:96.0px;background:#6fd29d"></div>
<div class="v" style="left:690.1px;top:1320.5px">29.865</div>
<div class="bar" style="left:687.5px;top:1349.5px;width:112.0px;background:#6fd29d"></div>
<div class="v" style="left:690.1px;top:1354.7px">34.826</div>
<div class="bar" style="left:687.5px;top:1383.8px;width:116.8px;background:#6fd29d"></div>
<div class="v" style="left:690.1px;top:1389.0px">36.324</div>
<div class="bar" style="left:687.5px;top:1418.1px;width:112.5px;background:#6fd29d"></div>
<div class="v" style="left:690.1px;top:1423.3px">34.988</div>
<div class="bar" style="left:687.5px;top:1452.3px;width:101.5px;background:#6fd29d"></div>
<div class="v" style="left:690.1px;top:1457.5px">31.568</div>
<div class="bar" style="left:687.5px;top:1486.6px;width:85.9px;background:#6fd29d"></div>
<div class="v" style="left:690.1px;top:1491.8px">26.716</div>
<div class="bar" style="left:687.5px;top:1520.9px;width:66.6px;background:#6fd29d"></div>
<div class="v" style="left:690.1px;top:1526.1px">20.706</div>
<div class="bar" style="left:687.5px;top:1555.2px;width:44.2px;background:#6fd29d"></div>
<div class="v" style="left:734.5px;top:1560.4px">13.744</div>
<div class="bar" style="left:687.5px;top:1589.4px;width:20.6px;background:#6fd29d"></div>
<div class="v" style="left:710.9px;top:1594.6px">6.393</div>
<div class="bar" style="left:687.5px;top:1623.7px;width:5.6px;background:#6fd29d"></div>
<div class="v" style="left:695.9px;top:1628.9px">1.746</div>
<div class="bar" style="left:687.5px;top:1658.0px;width:0.8px;background:#6fd29d"></div>
<div class="v" style="left:691.1px;top:1663.2px">250</div>
<div class="v" style="left:689.5px;top:1697.4px">5</div>
<svg width="825" height="1815" viewBox="0 0 825 1815" id="hls" style="pointer-events:none"><rect x="61.45" y="1416.32" width="141.70" height="33.10" fill="none" stroke="#bd1216" stroke-width="3.3"/><rect x="217.05" y="1416.32" width="142.30" height="33.10" fill="none" stroke="#bd1216" stroke-width="3.3"/><rect x="372.65" y="1313.51" width="142.40" height="33.10" fill="none" stroke="#bd1216" stroke-width="3.3"/><rect x="528.75" y="1347.78" width="141.50" height="33.10" fill="none" stroke="#bd1216" stroke-width="3.3"/><rect x="683.75" y="1382.05" width="135.20" height="33.10" fill="none" stroke="#bd1216" stroke-width="3.3"/></svg>
<div class="abs src" id="src">Nguồn: Bộ Giáo dục và Đào tạo</div>
<svg width="825" height="1815" viewBox="0 0 825 1815" style="pointer-events:none" id="footer">
<polygon points="0,1787.5 201,1787.5 213,1804.5 825,1804.5 825,1815 0,1815" fill="#3a55a9"/>
</svg>
<div class="abs url" id="url">https://infographics.vn</div>
<svg width="175" height="60" viewBox="650 1750 175 60" style="left:650px;top:1750px" id="logo">
<circle cx="676.6" cy="1776.3" r="9.9" fill="none" stroke="#2b3170" stroke-width="1.7"/>
<path d="M680.2,1773.6 A4.3,5.4 0 1 0 680.2,1779" fill="none" stroke="#2b3170" stroke-width="1.8"/>
<g fill="#2d4fa6">
<path d="M697.8,1766 L723,1766 L723,1773.6 L716.2,1773.6 L716.2,1790 L705.6,1790 L705.6,1773.6 L697.8,1773.6 Z"/>
<path d="M724,1766 L747.3,1766 L747.3,1773.6 L741.5,1773.6 L741.5,1790 L730.8,1790 L730.8,1773.6 L724,1773.6 Z"/>
<path d="M747.8,1766 L760,1766 L775,1790 L762.8,1790 Z"/>
<path d="M762.5,1766 L774,1766 L759.5,1790 L747.3,1790 Z"/>
<path d="M784.6,1766 L793.5,1766 L798.6,1777.5 L798.6,1766 L804.6,1766 L804.6,1790 L796.4,1790 L790.6,1777 L790.6,1790 L784.6,1790 Z"/>
</g>
<path d="M759.5,1765.6 L770,1765.6 L775.2,1780.5 L780.2,1765.6 L786.8,1765.6 L778.4,1790 L768.2,1790 Z" fill="#d9283f"/>
<ellipse cx="767.6" cy="1781.3" rx="5.6" ry="5" fill="#eef0f8"/>
<ellipse cx="767.6" cy="1781.3" rx="9.5" ry="3.4" transform="rotate(-18 767.6 1781.3)" fill="none" stroke="#e8909b" stroke-width="1"/>
<path d="M764,1779 Q767,1776.5 771,1779.5 M763.5,1782.5 Q767.5,1785 771.5,1782" fill="none" stroke="#a9b3d8" stroke-width="0.8"/>
<text x="734.6" y="1796.8" font-family="Liberation Sans" font-weight="700" font-size="6.6" fill="#d43a4c" textLength="70" lengthAdjust="spacingAndGlyphs">Vietnam News Agency</text>
</svg>
</body></html>
